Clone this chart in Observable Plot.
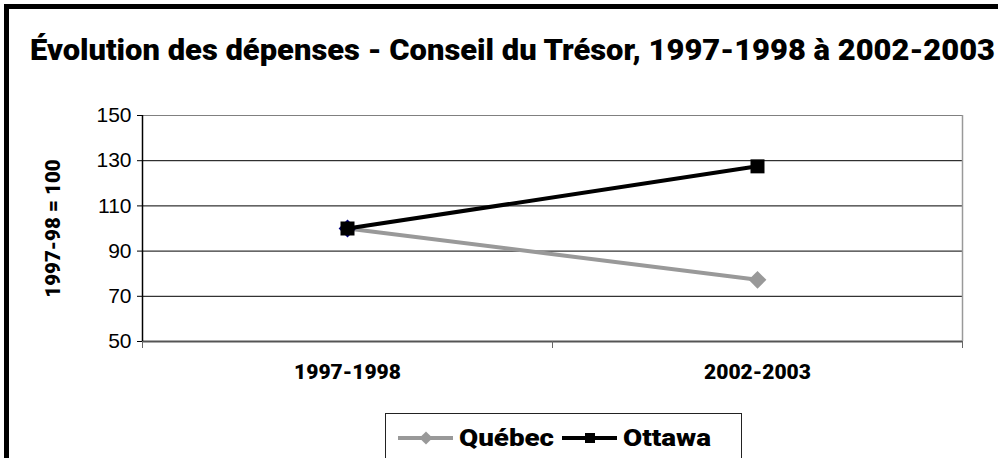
<!DOCTYPE html>
<html>
<head>
<meta charset="utf-8">
<script src="https://cdn.jsdelivr.net/npm/d3@7"></script>
<script src="https://cdn.jsdelivr.net/npm/@observablehq/plot@0.6"></script>
<style>
  html, body { margin: 0; padding: 0; background: #fff; }
  #wrap { position: relative; width: 998px; height: 458px; overflow: hidden; background: #fff; }
  #frame { position: absolute; left: 4px; top: 4px; width: 1200px; height: 800px; border: 5px solid #000; box-sizing: border-box; }
  #title { position: absolute; left: 30px; top: 36px; white-space: nowrap; line-height: 1;
    font-family: Roboto, "Liberation Sans", sans-serif; font-weight: 900; font-size: 29.5px; color: #000; transform-origin: 0 0; }
  #chart { position: absolute; left: 0; top: 0; }
  #legend { position: absolute; left: 385px; top: 413px; width: 357px; height: 60px; border: 1px solid #222; box-sizing: border-box; background: #fff;
    font-family: Roboto, "Liberation Sans", sans-serif; font-weight: 900; font-size: 24px; line-height: 1; }
  #legend .item { position: absolute; top: 12px; display: flex; align-items: center; }
  #legend svg { display: block; }
  #legend span { display: inline-block; transform-origin: 0 50%; }
</style>
</head>
<body>
<div id="wrap">
  <div id="frame"></div>
  <div id="chart"></div>
  <div id="title"></div>
  <div id="legend"></div>
</div>
<script>
const titleText = "Évolution des dépenses - Conseil du Trésor, 1997-1998 à 2002-2003";
const yLabel = "1997-98 = 100";
const categories = ["1997-1998", "2002-2003"];
const quebec = [100, 77.3];
const ottawa = [100, 127.5];
const yTicks = [50, 70, 90, 110, 130, 150];
const seriesNames = ["Québec", "Ottawa"];

const QC_COLOR = "#999999";
const OT_COLOR = "#000000";

const titleEl = document.getElementById("title");
titleEl.textContent = titleText;

const qcData = categories.map((c, i) => ({cat: c, x: i + 0.5, y: quebec[i], i}));
const otData = categories.map((c, i) => ({cat: c, x: i + 0.5, y: ottawa[i], i}));

const boldFont = "Roboto, 'Liberation Sans', sans-serif";

const chart = Plot.plot({
  width: 998,
  height: 458,
  marginLeft: 142,
  marginRight: 36,
  marginTop: 115,
  marginBottom: 117,
  style: {fontFamily: "'Liberation Sans', Arial, sans-serif", fontSize: "21px", color: "#000", background: "transparent", overflow: "visible"},
  x: {type: "linear", domain: [0, categories.length]},
  y: {domain: [yTicks[0], yTicks[yTicks.length - 1]]},
  marks: [
    Plot.ruleY(yTicks.slice(1, -1), {stroke: "#000", strokeWidth: 1}),
    Plot.ruleY([yTicks[yTicks.length - 1]], {stroke: "#808080", strokeWidth: 1}),
    Plot.ruleX([categories.length], {stroke: "#999", strokeWidth: 1.5}),
    Plot.ruleY([yTicks[0]], {stroke: "#555", strokeWidth: 2}),
    Plot.ruleX([0], {stroke: "#000", strokeWidth: 1.5}),
    Plot.axisY({ticks: yTicks, tickSize: 5, tickPadding: 6, label: null, fontSize: 21, stroke: "#000"}),
    Plot.axisX({ticks: d3.range(categories.length + 1), tickSize: 7, tickFormat: () => "", label: null, stroke: "#666"}),
    Plot.axisX({ticks: categories.map((c, i) => i + 0.5), tickSize: 0, tickPadding: 23, label: null,
      tickFormat: (d) => categories[Math.round(d - 0.5)],
      fontFamily: boldFont, fontWeight: 900, fontSize: 21}),
    Plot.text([yLabel], {frameAnchor: "left", textAnchor: "middle", rotate: -90, dx: -89, fontFamily: boldFont, fontWeight: 900, fontSize: 20.5, fill: "#000"}),
    Plot.line(qcData, {x: "x", y: "y", stroke: QC_COLOR, strokeWidth: 4}),
    Plot.dot(qcData, {x: "x", y: "y", symbol: "diamond2", r: 8, fill: (d) => d.i === 0 ? "#000080" : QC_COLOR, stroke: "none"}),
    Plot.line(otData, {x: "x", y: "y", stroke: OT_COLOR, strokeWidth: 4}),
    Plot.dot(otData, {x: "x", y: "y", symbol: "square", r: 7.9, fill: OT_COLOR, stroke: "none"})
  ]
});
document.getElementById("chart").appendChild(chart);

// fit title to reference width (layout only)
const tw = titleEl.getBoundingClientRect().width;
if (tw > 0) titleEl.style.transform = `scaleX(${965 / tw})`;

// legend
const legend = document.getElementById("legend");
const items = [
  {name: seriesNames[0], color: QC_COLOR, sym: "diamond", left: 11, textW: 95},
  {name: seriesNames[1], color: OT_COLOR, sym: "square", left: 175, textW: 88}
];
for (const it of items) {
  const div = document.createElement("div");
  div.className = "item";
  div.style.left = it.left + "px";
  const ns = "http://www.w3.org/2000/svg";
  const svg = document.createElementNS(ns, "svg");
  svg.setAttribute("width", 58); svg.setAttribute("height", 24);
  const line = document.createElementNS(ns, "line");
  line.setAttribute("x1", 1); line.setAttribute("x2", 56); line.setAttribute("y1", 12); line.setAttribute("y2", 12);
  line.setAttribute("stroke", it.color); line.setAttribute("stroke-width", 4);
  svg.appendChild(line);
  const p = document.createElementNS(ns, "path");
  const s = it.sym === "diamond" ? d3.symbol(d3.symbolDiamond2, 110) : d3.symbol(d3.symbolSquare, 100);
  p.setAttribute("d", s()); p.setAttribute("transform", "translate(29,12)"); p.setAttribute("fill", it.color);
  svg.appendChild(p);
  const span = document.createElement("span");
  span.textContent = it.name;
  span.style.marginLeft = "4px";
  div.appendChild(svg); div.appendChild(span);
  legend.appendChild(div);
  const w = span.getBoundingClientRect().width;
  if (w > 0) span.style.transform = `scaleX(${it.textW / w})`;
}
</script>
</body>
</html>
